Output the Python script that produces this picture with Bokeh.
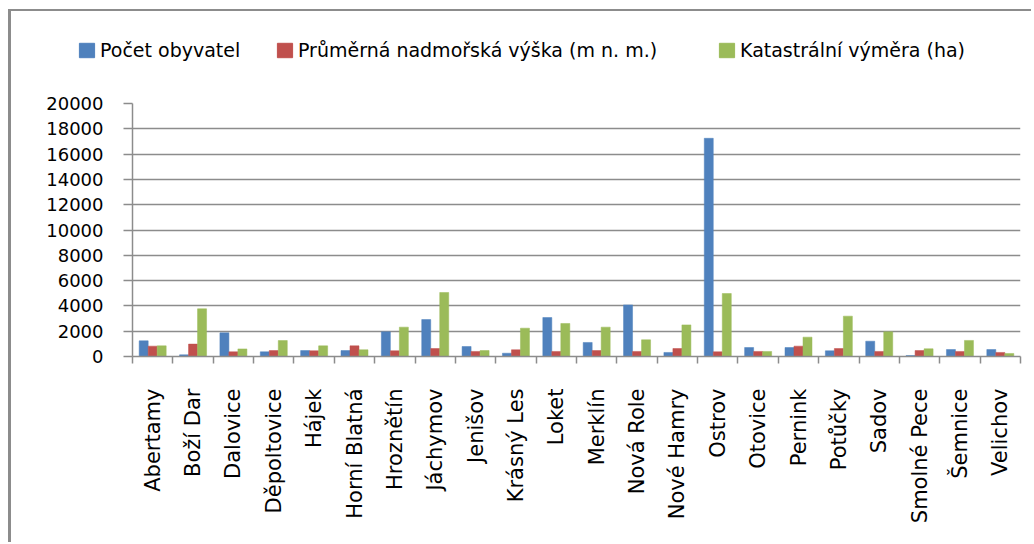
import math
from bokeh.plotting import figure
from bokeh.models import (ColumnDataSource, Range1d, LinearAxis,
                          FixedTicker, Legend, LegendItem)
from bokeh.transform import dodge
from bokeh.embed import file_html
from bokeh.resources import INLINE

categories = ["Abertamy", "Boží Dar", "Dalovice", "Děpoltovice", "Hájek", "Horní Blatná",
              "Hroznětín", "Jáchymov", "Jenišov", "Krásný Les", "Loket", "Merklín",
              "Nová Role", "Nové Hamry", "Ostrov", "Otovice", "Pernink", "Potůčky",
              "Sadov", "Smolné Pece", "Šemnice", "Velichov"]
pocet_obyvatel = [1240, 130, 1870, 370, 470, 470, 1950, 2920, 790, 260, 3080, 1110,
                  4080, 320, 17250, 710, 710, 450, 1210, 80, 550, 550]
nadmorska_vyska = [820, 980, 370, 470, 450, 840, 450, 630, 400, 530, 400, 470,
                   400, 630, 370, 400, 820, 630, 400, 470, 400, 320]
katastralni_vymera = [840, 3770, 600, 1260, 840, 530, 2320, 5060, 470, 2240, 2610, 2320,
                      1320, 2500, 4980, 400, 1530, 3190, 1950, 610, 1270, 240]
series_names = ["Počet obyvatel", "Průměrná nadmořská výška (m n. m.)",
                "Katastrální výměra (ha)"]
y_ticks = list(range(0, 20001, 2000))

colors = ["#4F81BD", "#C0504D", "#9BBB59"]
FONT = "DejaVu Sans"
GRAY = "#8c8c8c"
cols = ["pop", "alt", "area"]

n = len(categories)
centers = [i + 0.5 for i in range(n)]
src = ColumnDataSource(dict(x=centers, cat=categories, pop=pocet_obyvatel,
                            alt=nadmorska_vyska, area=katastralni_vymera))
w = 0.223

W = 1023
# ---------- legend strip (its own root, above the chart) ----------
LH = 80
lp = figure(x_range=Range1d(0, W), y_range=Range1d(0, LH), width=W, height=LH,
            min_border=0, min_border_left=0, min_border_right=0,
            min_border_top=0, min_border_bottom=0,
            output_backend="svg", toolbar_location=None,
            x_axis_location=None, y_axis_location=None)
lp.outline_line_color = None
lp.grid.visible = False
lp.extra_x_ranges = {"bars": Range1d(0, n)}
lp.extra_y_ranges = {"bars": Range1d(1e6, 2e6)}  # keeps the bars themselves out of view
leg_x = [77 - 11, 275 - 11, 717 - 11]
for col, c, nm, lx in zip(cols, colors, series_names, leg_x):
    r = lp.vbar(x="x", top=col, width=w, source=src, fill_color=c, line_color=c,
                x_range_name="bars", y_range_name="bars")
    lg = Legend(items=[LegendItem(label=nm, renderers=[r])],
                location=(lx, 30), orientation="horizontal",
                padding=0, margin=0, border_line_color=None,
                background_fill_alpha=0, glyph_width=19, glyph_height=18,
                label_standoff=4, label_text_font=FONT, label_text_font_size="19px",
                label_text_color="black", label_height=14)
    lp.add_layout(lg, "center")
lp.styles = {"margin-left": "8px", "margin-top": "9px",
             "border-top": "2px solid #8c8c8c", "border-left": "3px solid #8c8c8c"}

# ---------- main chart ----------
p = figure(x_range=Range1d(0, n), y_range=Range1d(0, 20000),
           frame_width=888, frame_height=253,
           min_border_left=121, min_border_right=14, min_border_top=14,
           min_border_bottom=186,
           output_backend="svg", toolbar_location=None,
           x_axis_location=None, y_axis_location="left")
p.outline_line_color = None
p.xgrid.visible = False
p.ygrid.grid_line_color = GRAY
p.ygrid.grid_line_width = 1.5
p.ygrid.ticker = FixedTicker(ticks=y_ticks)

ya = p.yaxis[0]
ya.ticker = FixedTicker(ticks=y_ticks)
ya.axis_line_color = GRAY
ya.axis_line_width = 1.5
ya.major_tick_line_color = GRAY
ya.major_tick_line_width = 1.5
ya.major_tick_out = 9
ya.major_tick_in = 0
ya.minor_tick_line_color = None
ya.major_label_text_font = FONT
ya.major_label_text_font_size = "18px"
ya.major_label_text_color = "black"
ya.major_label_standoff = 20

# axis with tick marks at category boundaries
ta = LinearAxis(ticker=FixedTicker(ticks=list(range(n + 1))),
                axis_line_color=GRAY, axis_line_width=1.5,
                major_tick_line_color=GRAY, major_tick_line_width=1.5,
                major_tick_out=7, major_tick_in=0, minor_tick_line_color=None,
                major_label_text_font_size="0px", major_label_standoff=0,
                major_label_overrides={i: "" for i in range(n + 1)})
p.add_layout(ta, "below")

# axis with category names at category centres
ca = LinearAxis(ticker=FixedTicker(ticks=centers),
                axis_line_color=None, major_tick_line_color=None,
                major_tick_out=0, major_tick_in=0, minor_tick_line_color=None,
                major_label_overrides={c: name for c, name in zip(centers, categories)},
                major_label_orientation=math.pi / 2,
                major_label_text_font=FONT, major_label_text_font_size="21px",
                major_label_text_color="black", major_label_standoff=25)
p.add_layout(ca, "below")

for col, off, c in zip(cols, [-w, 0, w], colors):
    p.vbar(x=dodge("x", off), top=col, width=w, source=src,
           fill_color=c, line_color=c, line_width=0.5)

p.styles = {"margin-left": "8px", "border-left": "3px solid #8c8c8c"}

open("out.html", "w").write(file_html([lp, p], INLINE))
